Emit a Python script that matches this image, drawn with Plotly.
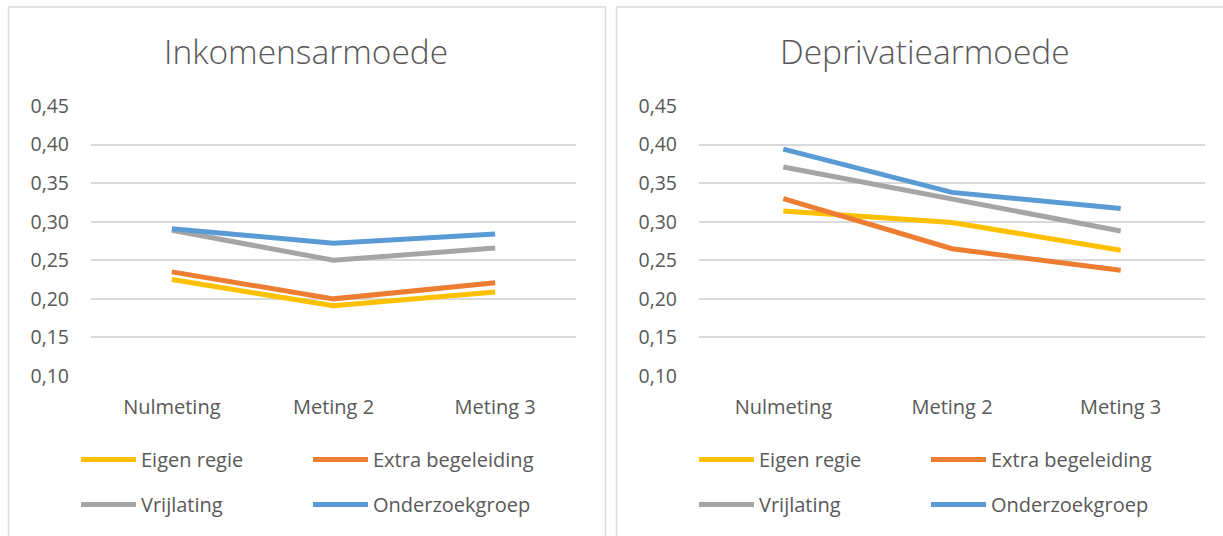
import plotly.graph_objects as go

categories = ["Nulmeting", "Meting 2", "Meting 3"]
series_names = ["Eigen regie", "Extra begeleiding", "Vrijlating", "Onderzoekgroep"]
series_colors = ["#FFC000", "#ED7D31", "#A5A5A5", "#5B9BD5"]

# Inkomensarmoede
inkomen_eigen_regie = [0.225, 0.191, 0.209]
inkomen_extra_begeleiding = [0.235, 0.200, 0.221]
inkomen_vrijlating = [0.289, 0.250, 0.266]
inkomen_onderzoekgroep = [0.291, 0.272, 0.284]

# Deprivatiearmoede
depriv_eigen_regie = [0.314, 0.299, 0.263]
depriv_extra_begeleiding = [0.330, 0.265, 0.237]
depriv_vrijlating = [0.371, 0.330, 0.288]
depriv_onderzoekgroep = [0.394, 0.338, 0.317]

titles = ["Inkomensarmoede", "Deprivatiearmoede"]
y_ticks = [0.10, 0.15, 0.20, 0.25, 0.30, 0.35, 0.40, 0.45]

W, H = 1223, 536
FONT = "Open Sans"
TXT = "#595959"
GRID = "#D9D9D9"

def px(x):
    return x / W

def py(y):
    return 1 - y / H

panels = [
    [inkomen_eigen_regie, inkomen_extra_begeleiding, inkomen_vrijlating, inkomen_onderzoekgroep],
    [depriv_eigen_regie, depriv_extra_begeleiding, depriv_vrijlating, depriv_onderzoekgroep],
]

fig = go.Figure()

legend_names = [["legend", "legend2"], ["legend3", "legend4"]]
for p, data in enumerate(panels):
    xa = "x" if p == 0 else "x2"
    ya = "y" if p == 0 else "y2"
    for i, (name, vals) in enumerate(zip(series_names, data)):
        fig.add_trace(go.Scatter(
            x=categories, y=vals, name=name, mode="lines",
            line=dict(color=series_colors[i], width=5),
            xaxis=xa, yaxis=ya,
            legend=legend_names[p][i // 2],
            hoverinfo="skip",
        ))

axis_common_y = dict(
    range=[0.10, 0.45], tickvals=y_ticks, tickformat=".2f",
    showgrid=True, gridcolor=GRID, gridwidth=1.8, zeroline=False,
    showline=False, ticks="", ticklabelstandoff=21, automargin=False,
    tickfont=dict(family=FONT, size=19.5, color=TXT),
    domain=[py(376), py(106)], fixedrange=True,
)
axis_common_x = dict(
    type="category", categoryorder="array", categoryarray=categories,
    range=[-0.5, 2.5], showgrid=False, zeroline=False, showline=False,
    ticks="", ticklabelstandoff=17, automargin=False,
    tickfont=dict(family=FONT, size=20, color=TXT), fixedrange=True,
)

fig.update_layout(
    width=W, height=H,
    margin=dict(l=0, r=0, t=0, b=0, autoexpand=False),
    paper_bgcolor="white", plot_bgcolor="white",
    separators=", ",
    xaxis=dict(axis_common_x, domain=[px(91), px(576)], anchor="y"),
    yaxis=dict(axis_common_y, anchor="x"),
    xaxis2=dict(axis_common_x, domain=[px(699), px(1205)], anchor="y2"),
    yaxis2=dict(axis_common_y, anchor="x2"),
    showlegend=True,
)

legend_common = dict(
    orientation="h", xanchor="left", yanchor="top",
    font=dict(family=FONT, size=20, color=TXT),
    itemwidth=55, entrywidth=162, entrywidthmode="pixels",
    bgcolor="rgba(0,0,0,0)", borderwidth=0,
    itemclick=False, itemdoubleclick=False,
)
fig.update_layout(
    legend=dict(legend_common, x=px(76), y=py(440)),
    legend2=dict(legend_common, x=px(76), y=py(485)),
    legend3=dict(legend_common, x=px(694), y=py(440)),
    legend4=dict(legend_common, x=px(694), y=py(485)),
)

# panel borders
for x0, x1 in [(8.5, 605.5), (616.5, 1240)]:
    fig.add_shape(type="rect", xref="paper", yref="paper",
                  x0=px(x0), x1=px(x1), y0=-0.1, y1=py(7),
                  line=dict(color=GRID, width=1.5), fillcolor="rgba(0,0,0,0)",
                  layer="below")

for t, cx in zip(titles, [306, 925]):
    fig.add_annotation(text=t, xref="paper", yref="paper", x=px(cx), y=py(51),
                       xanchor="center", yanchor="middle", showarrow=False,
                       font=dict(family=FONT, size=33.5, color=TXT, weight=300))

fig.write_html("out.html", config={"displayModeBar": False},
               post_script="document.body.style.margin='0';")
